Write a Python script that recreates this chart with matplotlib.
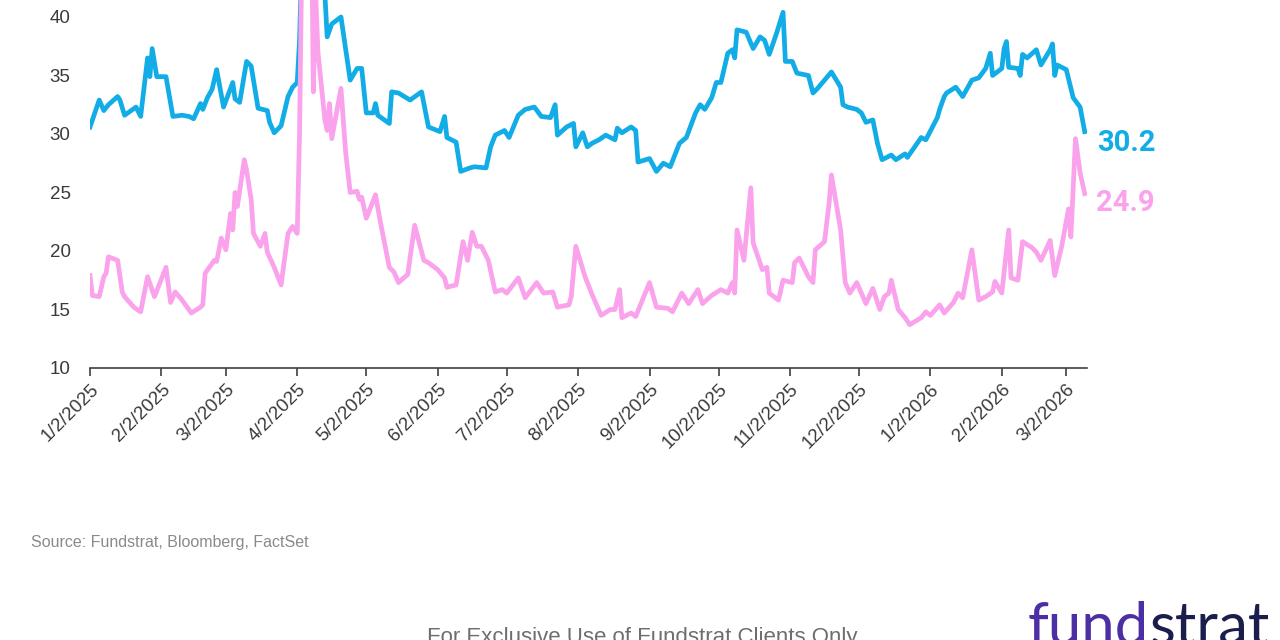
import matplotlib
matplotlib.use('Agg')
import matplotlib.pyplot as plt
import pandas as pd

BLUE = '#12ADE6'
PINK = '#FAA2EB'
GRID_TXT = '#3A3A3A'

plt.rcParams['font.family'] = ['Liberation Sans', 'DejaVu Sans']

# upper (blue) series
blue_dates = [
    '1/2/2025', '1/6/2025', '1/8/2025', '1/10/2025', '1/14/2025', '1/15/2025', '1/17/2025',
    '1/22/2025', '1/24/2025', '1/27/2025', '1/28/2025', '1/29/2025', '1/31/2025', '2/4/2025',
    '2/7/2025', '2/11/2025', '2/14/2025', '2/16/2025', '2/19/2025', '2/20/2025', '2/22/2025',
    '2/24/2025', '2/26/2025', '3/1/2025', '3/5/2025', '3/6/2025', '3/8/2025', '3/11/2025',
    '3/13/2025', '3/16/2025', '3/20/2025', '3/21/2025', '3/23/2025', '3/26/2025', '3/29/2025',
    '3/31/2025', '4/2/2025', '4/3/2025', '4/4/2025', '4/7/2025', '4/8/2025', '4/9/2025',
    '4/10/2025', '4/11/2025', '4/14/2025', '4/15/2025', '4/17/2025', '4/21/2025', '4/25/2025',
    '4/28/2025', '4/30/2025', '5/2/2025', '5/5/2025', '5/6/2025', '5/7/2025', '5/12/2025',
    '5/13/2025', '5/16/2025', '5/21/2025', '5/26/2025', '5/29/2025', '6/3/2025', '6/5/2025',
    '6/6/2025', '6/10/2025', '6/12/2025', '6/16/2025', '6/18/2025', '6/23/2025', '6/25/2025',
    '6/27/2025', '7/1/2025', '7/3/2025', '7/7/2025', '7/10/2025', '7/14/2025', '7/17/2025',
    '7/21/2025', '7/23/2025', '7/24/2025', '7/28/2025', '7/31/2025', '8/1/2025', '8/4/2025',
    '8/6/2025', '8/8/2025', '8/11/2025', '8/14/2025', '8/18/2025', '8/19/2025', '8/21/2025',
    '8/25/2025', '8/27/2025', '8/28/2025', '9/2/2025', '9/5/2025', '9/8/2025', '9/11/2025',
    '9/15/2025', '9/18/2025', '9/22/2025', '9/24/2025', '9/26/2025', '9/29/2025', '10/1/2025',
    '10/3/2025', '10/6/2025', '10/8/2025', '10/9/2025', '10/10/2025', '10/14/2025', '10/17/2025',
    '10/20/2025', '10/22/2025', '10/24/2025', '10/27/2025', '10/30/2025', '10/31/2025',
    '11/3/2025', '11/5/2025', '11/10/2025', '11/12/2025', '11/14/2025', '11/20/2025',
    '11/24/2025', '11/25/2025', '11/27/2025', '12/1/2025', '12/3/2025', '12/5/2025', '12/8/2025',
    '12/10/2025', '12/12/2025', '12/16/2025', '12/18/2025', '12/22/2025', '12/23/2025',
    '12/29/2025', '12/31/2025', '1/5/2026', '1/6/2026', '1/8/2026', '1/9/2026', '1/13/2026',
    '1/16/2026', '1/20/2026', '1/23/2026', '1/26/2026', '1/28/2026', '1/29/2026', '2/2/2026',
    '2/3/2026', '2/4/2026', '2/5/2026', '2/9/2026', '2/10/2026', '2/11/2026', '2/13/2026',
    '2/17/2026', '2/19/2026', '2/23/2026', '2/24/2026', '2/25/2026', '2/26/2026', '3/2/2026',
    '3/5/2026', '3/8/2026', '3/10/2026',
]
blue_vals = [
    30.6, 32.9, 32.0, 32.5, 33.2, 32.9, 31.6,
    32.3, 31.5, 36.5, 34.9, 37.3, 34.9, 34.9,
    31.5, 31.6, 31.5, 31.3, 32.6, 32.1, 33.1,
    33.8, 35.5, 32.3, 34.4, 33.0, 32.7, 36.2,
    35.8, 32.2, 32.0, 31.0, 30.1, 30.7, 33.2,
    34.0, 34.4, 38.0, 45.0, 48.0, 51.0, 45.0,
    47.0, 44.0, 42.0, 38.3, 39.4, 40.0, 34.6,
    35.6, 35.6, 31.8, 31.8, 32.6, 31.6, 30.9,
    33.6, 33.5, 32.9, 33.6, 30.6, 30.2, 31.5,
    29.7, 29.3, 26.8, 27.1, 27.2, 27.1, 28.9,
    29.9, 30.3, 29.7, 31.6, 32.1, 32.3, 31.5,
    31.4, 32.5, 29.9, 30.6, 30.9, 28.9, 30.1,
    28.9, 29.2, 29.5, 29.9, 29.5, 30.5, 30.1,
    30.6, 30.3, 27.6, 27.9, 26.8, 27.5, 27.2,
    29.2, 29.7, 31.8, 32.5, 32.1, 33.1, 34.4,
    34.4, 36.9, 37.2, 36.5, 38.9, 38.7, 37.3,
    38.3, 38.0, 36.8, 38.5, 40.4, 36.2,
    36.2, 35.2, 35.0, 33.5, 33.9, 35.3,
    34.0, 32.5, 32.3, 32.1, 31.8, 31.0, 31.2,
    29.2, 27.8, 28.2, 27.8, 28.3, 28.0,
    29.7, 29.5, 31.4, 32.1, 33.2, 33.5, 34.0,
    33.2, 34.6, 34.8, 35.6, 36.9, 35.0, 35.6,
    37.3, 37.9, 35.7, 35.6, 35.0, 36.8, 36.5,
    37.2, 35.9, 37.2, 37.7, 35.0, 35.9, 35.5,
    33.1, 32.3, 30.2,
]

# lower (pink) series
pink_dates = [
    '1/2/2025', '1/3/2025', '1/6/2025', '1/8/2025', '1/9/2025', '1/10/2025', '1/14/2025',
    '1/16/2025', '1/17/2025', '1/21/2025', '1/24/2025', '1/27/2025', '1/30/2025', '2/4/2025',
    '2/6/2025', '2/8/2025', '2/11/2025', '2/15/2025', '2/19/2025', '2/20/2025', '2/21/2025',
    '2/25/2025', '2/26/2025', '2/28/2025', '3/2/2025', '3/4/2025', '3/5/2025', '3/6/2025',
    '3/7/2025', '3/10/2025', '3/11/2025', '3/13/2025', '3/14/2025', '3/17/2025', '3/19/2025',
    '3/20/2025', '3/23/2025', '3/26/2025', '3/27/2025', '3/29/2025', '3/31/2025', '4/2/2025',
    '4/3/2025', '4/4/2025', '4/7/2025', '4/8/2025', '4/9/2025', '4/10/2025', '4/11/2025',
    '4/14/2025', '4/15/2025', '4/16/2025', '4/17/2025', '4/21/2025', '4/23/2025', '4/25/2025',
    '4/28/2025', '4/29/2025', '4/30/2025', '5/2/2025', '5/6/2025', '5/8/2025', '5/12/2025',
    '5/14/2025', '5/16/2025', '5/20/2025', '5/23/2025', '5/27/2025', '5/29/2025', '6/2/2025',
    '6/5/2025', '6/6/2025', '6/10/2025', '6/13/2025', '6/15/2025', '6/17/2025', '6/19/2025',
    '6/21/2025', '6/24/2025', '6/27/2025', '6/30/2025', '7/2/2025', '7/7/2025', '7/10/2025',
    '7/15/2025', '7/18/2025', '7/22/2025', '7/24/2025', '7/29/2025', '7/30/2025', '8/1/2025',
    '8/5/2025', '8/8/2025', '8/12/2025', '8/16/2025', '8/18/2025', '8/20/2025', '8/21/2025',
    '8/25/2025', '8/27/2025', '9/2/2025', '9/5/2025', '9/10/2025', '9/12/2025', '9/16/2025',
    '9/19/2025', '9/23/2025', '9/25/2025', '9/29/2025', '10/3/2025', '10/6/2025', '10/8/2025',
    '10/9/2025', '10/10/2025', '10/13/2025', '10/16/2025', '10/17/2025', '10/21/2025',
    '10/23/2025', '10/24/2025', '10/28/2025', '10/30/2025', '11/3/2025', '11/4/2025',
    '11/6/2025', '11/10/2025', '11/12/2025', '11/13/2025', '11/17/2025', '11/19/2025',
    '11/20/2025', '11/24/2025', '11/26/2025', '11/28/2025', '12/1/2025', '12/5/2025',
    '12/8/2025', '12/11/2025', '12/13/2025', '12/15/2025', '12/16/2025', '12/19/2025',
    '12/22/2025', '12/24/2025', '12/29/2025', '12/31/2025', '1/2/2026', '1/6/2026', '1/8/2026',
    '1/12/2026', '1/14/2026', '1/16/2026', '1/20/2026', '1/23/2026', '1/26/2026', '1/29/2026',
    '1/30/2026', '2/2/2026', '2/5/2026', '2/6/2026', '2/9/2026', '2/11/2026', '2/15/2026',
    '2/17/2026', '2/19/2026', '2/23/2026', '2/25/2026', '2/28/2026', '3/3/2026', '3/4/2026',
    '3/6/2026', '3/8/2026', '3/10/2026',
]
pink_vals = [
    17.9, 16.2, 16.1, 17.8, 18.1, 19.5, 19.2,
    16.5, 16.1, 15.2, 14.8, 17.8, 16.1, 18.6,
    15.6, 16.5, 15.8, 14.7, 15.2, 15.4, 18.1,
    19.2, 19.1, 21.1, 20.1, 23.2, 21.8, 25.0,
    23.8, 27.8, 26.9, 24.4, 21.5, 20.4, 21.5,
    19.9, 18.6, 17.1, 18.6, 21.5, 22.1, 21.5,
    30.0, 45.3, 47.0, 52.3, 33.6, 42.0, 37.0,
    31.2, 30.3, 32.6, 29.6, 33.9, 28.5, 25.0,
    25.1, 24.4, 24.6, 22.8, 24.8, 22.6, 18.6,
    18.2, 17.3, 18.0, 22.2, 19.2, 19.0, 18.4,
    17.7, 16.9, 17.1, 20.8, 19.2, 21.6, 20.4,
    20.4, 19.2, 16.5, 16.7, 16.4, 17.7, 16.0,
    17.3, 16.4, 16.5, 15.2, 15.4, 16.1, 20.4,
    17.8, 16.3, 14.5, 15.0, 15.0, 16.7, 14.3,
    14.7, 14.4, 17.3, 15.2, 15.1, 14.8, 16.4,
    15.5, 16.7, 15.5, 16.2, 16.7, 16.4, 17.3,
    16.4, 21.8, 19.2, 25.4, 20.7, 18.4,
    18.6, 16.4, 15.8, 17.5, 17.3, 19.0,
    19.4, 17.8, 17.3, 20.1, 20.8, 24.1,
    26.5, 21.8, 17.3, 16.4, 17.3, 15.5,
    16.8, 15.0, 16.1, 16.4, 17.5, 15.0,
    14.3, 13.7, 14.3, 14.8, 14.5, 15.4, 14.7,
    15.6, 16.4, 16.0, 20.1, 15.8, 16.1, 16.5,
    17.4, 16.4, 21.8, 17.7, 17.5, 20.8, 20.3,
    19.9, 19.2, 20.9, 17.9, 20.4, 23.6, 21.2,
    29.6, 26.7, 24.9,
]

y_ticks = [10, 15, 20, 25, 30, 35, 40]
x_start, x_end = '1/2/2025', '3/11/2026'
source_text = 'Source: Fundstrat, Bloomberg, FactSet'
footer_text = 'For Exclusive Use of Fundstrat Clients Only'

blue_x = pd.to_datetime(blue_dates, format='%m/%d/%Y')
pink_x = pd.to_datetime(pink_dates, format='%m/%d/%Y')

fig = plt.figure(figsize=(12.8, 6.4), dpi=100)
ax = fig.add_axes([90 / 1280, 272 / 640, (1087 - 90) / 1280, 368 / 640])

ax.plot(blue_x, blue_vals, color=BLUE, lw=3.4, solid_joinstyle='round')
ax.plot(pink_x, pink_vals, color=PINK, lw=3.4, solid_joinstyle='round')

ax.set_ylim(10, 41.45)
ax.set_xlim(pd.to_datetime(x_start, format='%m/%d/%Y'),
            pd.to_datetime(x_end, format='%m/%d/%Y'))
ax.set_yticks(y_ticks)

# monthly ticks on the 2nd
ticks = pd.date_range('2025-01-01', '2026-03-01', freq='MS') + pd.Timedelta(days=1)
ax.set_xticks(ticks)
ax.set_xticklabels([f'{t.month}/{t.day}/{t.year}' for t in ticks],
                   rotation=45, ha='right', va='top', rotation_mode='anchor')

for side in ['top', 'right', 'left']:
    ax.spines[side].set_visible(False)
ax.spines['bottom'].set_color('#404040')
ax.spines['bottom'].set_linewidth(1.2)
ax.tick_params(axis='y', length=0, pad=14, labelsize=13.5, labelcolor=GRID_TXT)
ax.tick_params(axis='x', length=6, width=1.2, color='#404040', pad=3,
               labelsize=13.5, labelcolor=GRID_TXT)

ax.annotate(f'{blue_vals[-1]:.1f}', xy=(blue_x[-1], blue_vals[-1]), xytext=(12, -11),
            textcoords='offset pixels', ha='left', va='center', color=BLUE,
            fontsize=21, fontweight='bold', family=['Roboto', 'DejaVu Sans'],
            annotation_clip=False)
ax.annotate(f'{pink_vals[-1]:.1f}', xy=(pink_x[-1], pink_vals[-1]), xytext=(11, -9),
            textcoords='offset pixels', ha='left', va='center', color=PINK,
            fontsize=21, fontweight='bold', family=['Roboto', 'DejaVu Sans'],
            annotation_clip=False)

fig.text(31 / 1280, 1 - 543 / 640, source_text, ha='left', va='center',
         fontsize=11.5, color='#8A8A8A')
fig.text(642 / 1280, 1 - 627 / 640, footer_text, ha='center', va='top',
         fontsize=16, color='#6E6E6E')

# logo: two-colour word
renderer = fig.canvas.get_renderer()
t1 = fig.text(1028 / 1280, 1 - 645 / 640, 'fund', ha='left', va='baseline',
              fontsize=43, color='#4B2FA3', family=['Lato', 'DejaVu Sans'])
bb = t1.get_window_extent(renderer)
fig.text(bb.x1 / 1280, 1 - 645 / 640, 'strat', ha='left', va='baseline',
         fontsize=43, color='#1B1E4D', family=['Lato', 'DejaVu Sans'])

fig.savefig('out.png', dpi=100)
